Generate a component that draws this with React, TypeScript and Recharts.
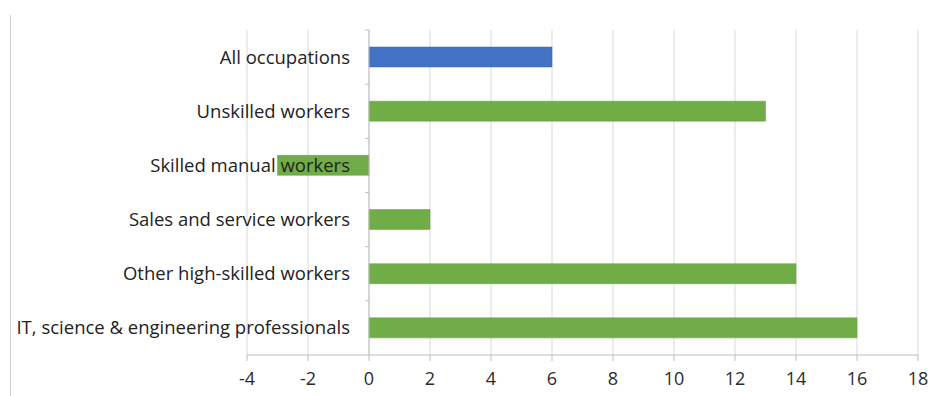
import { BarChart, Bar, XAxis, YAxis, CartesianGrid, ReferenceLine, Cell } from 'recharts';

const occupations = [
  'All occupations',
  'Unskilled workers',
  'Skilled manual workers',
  'Sales and service workers',
  'Other high-skilled workers',
  'IT, science & engineering professionals',
];
const changes = [6, 13, -3, 2, 14, 16];
const xTicks = [-4, -2, 0, 2, 4, 6, 8, 10, 12, 14, 16, 18];

const BLUE = '#4472C4';
const GREEN = '#70AD47';
const AXIS = '#bfbfbf';
const FONT = '"Open Sans", sans-serif';

// category labels sit next to the zero line, not at the plot's left edge
const ZERO_X = 369;
const BAND = 325 / 6;

const data = occupations.map((name, i) => ({ name, value: changes[i] }));

function CategoryTick({ y, payload }: any) {
  return (
    <g>
      <line x1={ZERO_X - 4} x2={ZERO_X} y1={y - BAND / 2} y2={y - BAND / 2} stroke={AXIS} />
      <text x={ZERO_X - 19} y={y} dy="0.35em" textAnchor="end" fontFamily={FONT} fontSize={18.5} fill="#222">
        {payload.value}
      </text>
    </g>
  );
}

export default function App() {
  return (
    <div style={{ position: 'absolute', left: 0, top: 0, width: 934, height: 396, background: '#fff' }}>
      <div style={{ position: 'absolute', left: 10, top: 15, width: 1, height: 381, background: '#d0d0d0' }} />
      <BarChart width={934} height={396} data={data} layout="vertical" margin={{ top: 30, right: 16, bottom: 11, left: 227 }}>
        <CartesianGrid horizontal={false} stroke="#d9d9d9" />
        <XAxis
          type="number"
          domain={[-4, 18]}
          ticks={xTicks}
          interval={0}
          height={30}
          axisLine={{ stroke: AXIS }}
          tickLine={{ stroke: AXIS }}
          tickSize={6}
          tickMargin={11}
          tick={{ fontFamily: FONT, fontSize: 18, fill: '#2b2b2b' }}
        />
        <ReferenceLine x={0} stroke={AXIS} />
        <Bar dataKey="value" barSize={20} isAnimationActive={false}>
          {data.map((_, i) => (
            <Cell key={i} fill={i === 0 ? BLUE : GREEN} stroke={i === 0 ? '#3a64b0' : '#62a03c'} strokeWidth={0.5} />
          ))}
        </Bar>
        <YAxis type="category" dataKey="name" width={20} axisLine={false} tickLine={false} interval={0} tick={CategoryTick} />
      </BarChart>
    </div>
  );
}
